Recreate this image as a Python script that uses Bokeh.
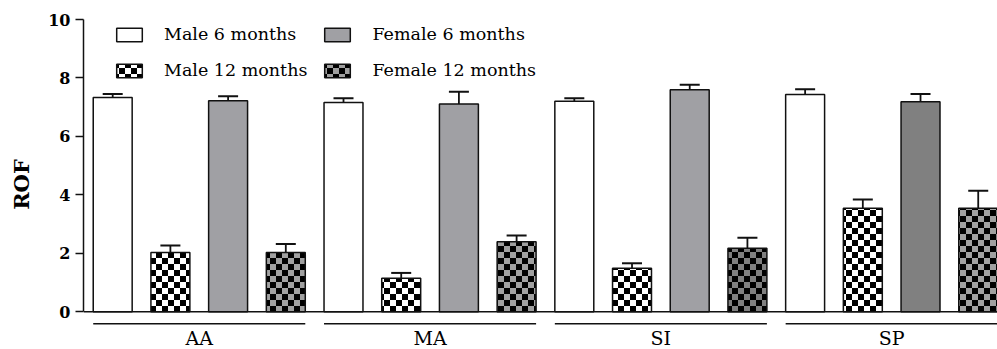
from bokeh.plotting import figure
from bokeh.models import (ColumnDataSource, Whisker, TeeHead, FixedTicker, Legend,
                          LegendItem, CanvasTexture, Range1d, Span)
from bokeh.core.properties import value
from bokeh.embed import file_html
from bokeh.resources import INLINE

# ---------------- data ----------------
groups = ["AA", "MA", "SI", "SP"]
series = ["Male 6 months", "Male 12 months", "Female 6 months", "Female 12 months"]
male_6 = [7.33, 7.16, 7.20, 7.43]
male_6_err = [0.12, 0.15, 0.11, 0.18]
male_12 = [2.03, 1.15, 1.49, 3.54]
male_12_err = [0.24, 0.18, 0.17, 0.30]
female_6 = [7.22, 7.11, 7.60, 7.19]
female_6_err = [0.15, 0.42, 0.17, 0.26]
female_12 = [2.03, 2.40, 2.17, 3.54]
female_12_err = [0.29, 0.21, 0.36, 0.60]
male_6_colors = ["#ffffff", "#ffffff", "#ffffff", "#ffffff"]
male_12_colors = ["#ffffff", "#ffffff", "#ffffff", "#ffffff"]
female_6_colors = ["#a0a0a4", "#a0a0a4", "#a0a0a4", "#808080"]
female_12_colors = ["#a0a0a0", "#a0a0a0", "#808080", "#a0a0a0"]
y_ticks = [0, 2, 4, 6, 8, 10]

# ---------------- layout constants ----------------
FONT = "DejaVu Serif"
BAR_W = 0.675
N_SER = 4
GROUP_LINE_Y = -0.41
GROUP_LABEL_Y = -0.90
INK = "#111111"

p = figure(width=997, height=349, output_backend="svg", toolbar_location=None,
           x_range=Range1d(-0.506, 15.334), y_range=Range1d(-1.29, 10),
           min_border_left=83, min_border_right=0, min_border_top=19,
           min_border_bottom=0)
p.outline_line_color = None
p.xgrid.grid_line_color = None
p.ygrid.grid_line_color = None
p.background_fill_color = "white"
p.xaxis.visible = False

checker = CanvasTexture(code="""
const c = ctx.canvas;
c.width = 12;
c.height = 12;
ctx.setTransform(1, 0, 0, 1, 0, 0);
ctx.clearRect(0, 0, 12, 12);
ctx.fillStyle = color;
ctx.fillRect(0, 0, 6, 6);
ctx.fillRect(6, 6, 6, 6);
""")

all_vals = [male_6, male_12, female_6, female_12]
all_errs = [male_6_err, male_12_err, female_6_err, female_12_err]
all_cols = [male_6_colors, male_12_colors, female_6_colors, female_12_colors]
hatched = [False, True, False, True]

renderers = []
for k in range(N_SER):
    xs = [g * N_SER + k for g in range(len(groups))]
    src = ColumnDataSource(dict(x=xs, top=all_vals[k],
                                upper=[v + e for v, e in zip(all_vals[k], all_errs[k])],
                                color=all_cols[k]))
    kw = dict(x="x", top="top", bottom=0, width=BAR_W, source=src,
              fill_color="color", line_color=INK, line_width=1.5)
    if hatched[k]:
        kw.update(hatch_pattern=value("chk"), hatch_extra={"chk": checker},
                  hatch_color="black", hatch_scale=12, hatch_alpha=1.0)
    r = p.vbar(**kw)
    renderers.append(r)
    w = Whisker(base="x", lower="top", upper="upper", source=src,
                lower_head=None,
                upper_head=TeeHead(size=20, line_width=2, line_color=INK),
                line_width=1.8, line_color=INK)
    p.add_layout(w)

# baseline at zero
p.add_layout(Span(location=0, dimension="width", line_color=INK, line_width=1.5))

# group underlines and group labels
gsrc = ColumnDataSource(dict(
    y=[GROUP_LINE_Y] * len(groups),
    ly=[GROUP_LABEL_Y] * len(groups),
    cx=[g * N_SER + (N_SER - 1) / 2 for g in range(len(groups))],
    start=[g * N_SER - BAR_W / 2 for g in range(len(groups))],
    end=[g * N_SER + (N_SER - 1) + BAR_W / 2 for g in range(len(groups))],
    name=groups))
p.segment(x0="start", x1="end", y0="y", y1="y", source=gsrc,
          line_color=INK, line_width=1.5)
p.text(x="cx", y="ly", text="name", source=gsrc, text_align="center",
       text_baseline="middle", text_font=value(FONT), text_font_size="19px",
       text_color="black")

# y axis
p.yaxis.ticker = FixedTicker(ticks=y_ticks)
p.yaxis.bounds = (0, 10)
p.yaxis.major_tick_out = 8
p.yaxis.major_tick_in = 0
p.yaxis.minor_tick_line_color = None
p.yaxis.axis_line_width = 1.5
p.yaxis.axis_line_color = INK
p.yaxis.major_tick_line_width = 1.5
p.yaxis.major_tick_line_color = INK
p.yaxis.major_label_text_font = FONT
p.yaxis.major_label_text_font_style = "bold"
p.yaxis.major_label_text_font_size = "16px"
p.yaxis.major_label_text_color = "black"
p.yaxis.major_label_standoff = 5
p.yaxis.axis_label = "ROF"
p.yaxis.axis_label_text_font = FONT
p.yaxis.axis_label_text_font_style = "bold"
p.yaxis.axis_label_text_font_size = "21px"
p.yaxis.axis_label_text_color = "black"
p.yaxis.axis_label_standoff = 11

legend = Legend(items=[LegendItem(label=series[k], renderers=[renderers[k]]) for k in range(N_SER)],
                location=(30, 268), nrows=2, orientation="vertical",
                glyph_width=32, glyph_height=17, label_standoff=19, spacing=14,
                padding=0, margin=0, border_line_color=None, background_fill_alpha=0,
                label_text_font=FONT, label_text_font_size="17.5px",
                label_text_color="black", label_height=22)
p.add_layout(legend)

open("out.html", "w").write(file_html(p, INLINE))
